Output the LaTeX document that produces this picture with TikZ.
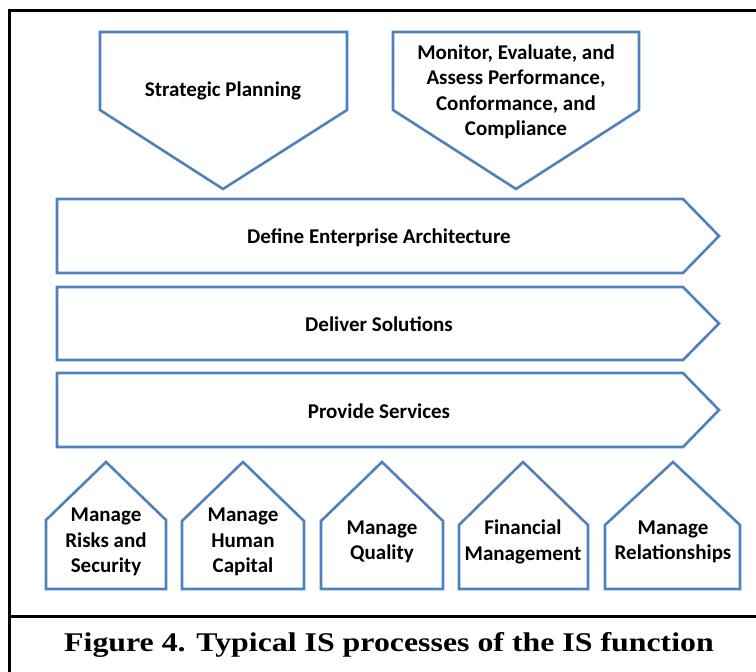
\documentclass[tikz,border=0pt]{standalone}
\usepackage{fontspec}
\setmainfont{Carlito}
\newfontfamily\capfont[FakeStretch=1.18]{Liberation Serif}
\definecolor{shapeblue}{HTML}{4F81BD}
\begin{document}
\begin{tikzpicture}[x=1pt,y=-1pt,
  shp/.style={draw=shapeblue,line width=2.6pt,line join=miter,fill=white},
  lbl/.style={font=\bfseries\fontsize{21}{25.5}\selectfont,align=center,inner sep=0pt},
  frm/.style={line width=3pt}]
\useasboundingbox (0,0) rectangle (756,672);
% frame
\draw[frm] (9,672) -- (9,10) -- (756,10);
\draw[frm] (9,616) -- (756,616);
% top pentagons
\draw[shp] (100,32) -- (347,32) -- (347,110) -- (223,189) -- (100,110) -- cycle;
\draw[shp] (393,32) -- (639,32) -- (639,110) -- (516,189) -- (393,110) -- cycle;
\node[lbl] (sp) at (223,91) {Strategic Planning};
\node[lbl] (mon) at (516,92) {Monitor, Evaluate, and\\Assess Performance,\\Conformance, and\\Compliance};
% chevrons
\draw[shp] (57,199) -- (683,199) -- (719,236) -- (683,273) -- (57,273) -- cycle;
\draw[shp] (57,287) -- (683,287) -- (719,323.5) -- (683,360) -- (57,360) -- cycle;
\draw[shp] (57,373) -- (683,373) -- (719,410) -- (683,447) -- (57,447) -- cycle;
\node[lbl] (ea) at (379,238) {Define Enterprise Architecture};
\node[lbl] (ds) at (379,324) {Deliver Solutions};
\node[lbl] (ps) at (379,411) {Provide Services};
% houses
\draw[shp] (46,520) -- (106,462) -- (166,520) -- (166,589) -- (46,589) -- cycle;
\draw[shp] (182,521) -- (243,462) -- (304,521) -- (304,589) -- (182,589) -- cycle;
\draw[shp] (321,521) -- (382,462) -- (443,521) -- (443,589) -- (321,589) -- cycle;
\draw[shp] (459,525) -- (523,462) -- (588,525) -- (588,589) -- (459,589) -- cycle;
\draw[shp] (605,525) -- (673,462) -- (740,525) -- (740,589) -- (605,589) -- cycle;
\node[lbl] (h1) at (106,542) {Manage\\Risks and\\Security};
\node[lbl] (h2) at (243,542) {Manage\\Human\\Capital};
\node[lbl] (h3) at (382,542) {Manage\\Quality};
\node[lbl] (h4) at (523,542) {Financial\\Management};
\node[lbl] (h5) at (673,542) {Manage\\Relationships};
% caption
\node[font=\capfont\bfseries\fontsize{27}{30}\selectfont,inner sep=0pt] (cap) at (389,645) {Figure 4. Typical IS processes of the IS function};
\end{tikzpicture}
\end{document}
